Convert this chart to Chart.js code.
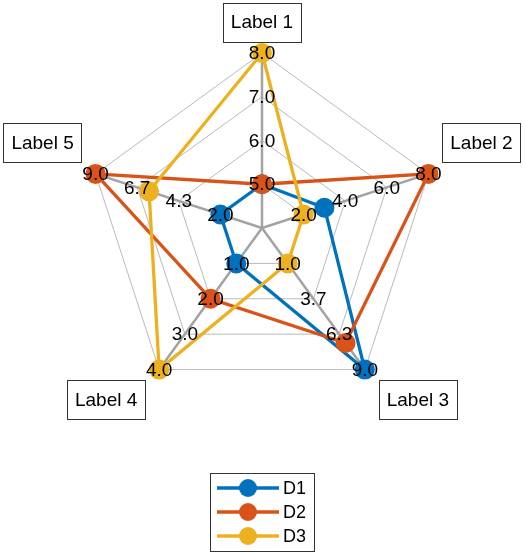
<!DOCTYPE html>
<html>
<head>
<meta charset="utf-8">
<script src="https://cdn.jsdelivr.net/npm/chart.js@4.4.1/dist/chart.umd.min.js"></script>
<style>
html, body { margin: 0; padding: 0; background: #fff; }
</style>
</head>
<body>
<canvas id="spider" width="526" height="554"></canvas>
<script>
// axes and their own ranges (first / last tick are the min / max of each axis)
var axisLabels = ['Label 1', 'Label 2', 'Label 3', 'Label 4', 'Label 5'];
var axisTicks = [
    [5, 6, 7, 8],
    [2, 4, 6, 8],
    [1, 3.7, 6.3, 9],
    [1, 2, 3, 4],
    [2, 4.3, 6.7, 9]
];

// series values
var seriesNames = ['D1', 'D2', 'D3'];
var d1 = [5, 3, 9, 1, 2];
var d2 = [5, 8, 7, 2, 9];
var d3 = [8, 2, 1, 4, 6];

var seriesColors = ['#0072BD', '#D95319', '#EDB120'];

// every axis has its own range: map it onto rings 1..4 of the shared radial scale
function toRing(values) {
    return values.map(function(v, i) {
        var t = axisTicks[i];
        var lo = t[0], hi = t[t.length - 1];
        return 1 + 3 * (v - lo) / (hi - lo);
    });
}

function makeSet(name, values, color, order) {
    return {
        label: name,
        data: toRing(values),
        borderColor: color,
        backgroundColor: color,
        fill: false,
        borderWidth: 3.3,
        pointRadius: 10,
        pointBackgroundColor: color,
        pointBorderColor: color,
        pointBorderWidth: 0,
        order: order,
        clip: false
    };
}

var spiderDecor = {
    id: 'spiderDecor',
    afterDatasetsDraw: function(chart) {
        var ctx = chart.ctx;
        var r = chart.scales.r;
        ctx.save();

        // per-axis tick labels, drawn on top of the markers
        ctx.font = '19px "Liberation Sans", Arial, sans-serif';
        ctx.fillStyle = '#000';
        ctx.textAlign = 'center';
        ctx.textBaseline = 'middle';
        axisTicks.forEach(function(ticks, i) {
            ticks.forEach(function(t, k) {
                var p = r.getPointPositionForValue(i, k + 1);
                ctx.fillText(t.toFixed(1), p.x, p.y + 1);
            });
        });

        // axis labels in boxes
        var offs = [[0, -31], [53, -31], [53, 30], [-53, 30], [-53, -31]];
        axisLabels.forEach(function(lbl, i) {
            var v = r.getPointPosition(i, r.drawingArea);
            var cx = v.x + offs[i][0], cy = v.y + offs[i][1];
            var w = ctx.measureText(lbl).width + 16, h = 39;
            ctx.fillStyle = '#fff';
            ctx.fillRect(cx - w / 2, cy - h / 2, w, h);
            ctx.strokeStyle = '#333';
            ctx.lineWidth = 1;
            ctx.strokeRect(Math.round(cx - w / 2) + 0.5, Math.round(cy - h / 2) + 0.5, Math.round(w), h);
            ctx.fillStyle = '#000';
            ctx.fillText(lbl, cx, cy + 1);
        });

        // legend: line + marker like the original
        ctx.fillStyle = '#fff';
        ctx.fillRect(210, 473, 104, 78);
        ctx.strokeStyle = '#333';
        ctx.strokeRect(210.5, 473.5, 104, 78);
        ctx.font = '18px "Liberation Sans", Arial, sans-serif';
        ctx.textAlign = 'left';
        seriesNames.forEach(function(name, i) {
            var y = 488 + i * 24;
            ctx.strokeStyle = seriesColors[i];
            ctx.lineWidth = 3.3;
            ctx.beginPath();
            ctx.moveTo(217, y);
            ctx.lineTo(279, y);
            ctx.stroke();
            ctx.fillStyle = seriesColors[i];
            ctx.beginPath();
            ctx.arc(248, y, 9, 0, Math.PI * 2);
            ctx.fill();
            ctx.fillStyle = '#000';
            ctx.fillText(name, 283, y + 1);
        });
        ctx.restore();
    }
};

var spiderChart = new Chart(document.getElementById('spider').getContext('2d'), {
    type: 'radar',
    data: {
        labels: axisLabels,
        datasets: [
            makeSet(seriesNames[0], d1, seriesColors[0], 3),
            makeSet(seriesNames[1], d2, seriesColors[1], 2),
            makeSet(seriesNames[2], d3, seriesColors[2], 1)
        ]
    },
    options: {
        responsive: false,
        animation: false,
        layout: { padding: { left: 87, right: 89, top: 53, bottom: 151 } },
        elements: { line: { tension: 0 } },
        plugins: {
            legend: { display: false },
            tooltip: { enabled: false }
        },
        scales: {
            r: {
                min: 0,
                max: 4,
                ticks: { display: false, stepSize: 1 },
                pointLabels: { display: false },
                grid: { color: '#a8a8a8', lineWidth: 0.8 },
                angleLines: { color: '#a3a3a3', lineWidth: 2.5 }
            }
        }
    },
    plugins: [spiderDecor]
});
</script>
</body>
</html>
